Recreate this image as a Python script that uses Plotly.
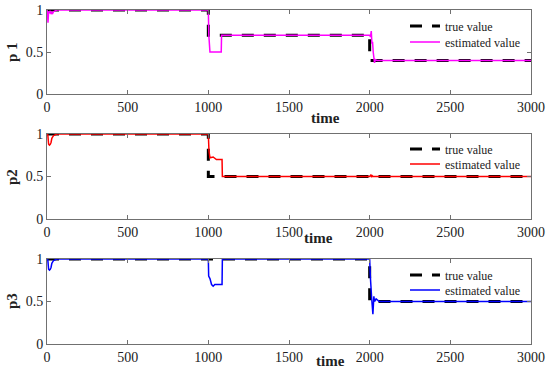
import plotly.graph_objects as go

# ---- data ----
t_true_p1 = [0, 1000, 1000, 2000, 2000, 3000]
v_true_p1 = [1, 1, 0.7, 0.7, 0.4, 0.4]
t_est_p1 = [0, 3, 6, 10, 15, 20, 25, 30, 35, 40, 50, 60, 80, 1000, 1003, 1010, 1080, 1082, 2000, 2005, 2010, 2014, 2018, 2022, 2026, 2030, 2035, 2045, 2060, 3000]
v_est_p1 = [1, 0.97, 0.85, 0.98, 0.97, 0.99, 0.95, 0.97, 0.96, 0.98, 0.99, 1.0, 1.0, 1.0, 0.7, 0.5, 0.5, 0.7, 0.7, 0.68, 0.75, 0.6, 0.62, 0.5, 0.45, 0.37, 0.41, 0.40, 0.40, 0.40]

t_true_p2 = [0, 1000, 1000, 3000]
v_true_p2 = [1, 1, 0.5, 0.5]
t_est_p2 = [0, 5, 10, 15, 20, 25, 30, 35, 40, 50, 60, 80, 1000, 1004, 1010, 1030, 1040, 1050, 1085, 1087, 2000, 2008, 2012, 2016, 2022, 2030, 3000]
v_est_p2 = [1, 0.99, 0.88, 0.87, 0.88, 0.9, 0.95, 0.97, 0.98, 0.99, 1.0, 1.0, 1.0, 0.8, 0.72, 0.73, 0.71, 0.7, 0.7, 0.5, 0.5, 0.52, 0.49, 0.51, 0.5, 0.5, 0.5]

t_true_p3 = [0, 2000, 2000, 3000]
v_true_p3 = [1, 1, 0.5, 0.5]
t_est_p3 = [0, 5, 10, 15, 20, 25, 30, 35, 40, 50, 60, 80, 1000, 1002, 1010, 1020, 1030, 1040, 1085, 1087, 2000, 2004, 2008, 2012, 2016, 2020, 2026, 2030, 2040, 2050, 2060, 2080, 3000]
v_est_p3 = [1, 0.99, 0.88, 0.87, 0.88, 0.9, 0.95, 0.97, 0.98, 0.99, 1.0, 1.0, 1.0, 0.8, 0.77, 0.7, 0.68, 0.7, 0.7, 1.0, 1.0, 0.8, 0.57, 0.55, 0.45, 0.35, 0.56, 0.5, 0.53, 0.51, 0.5, 0.5, 0.5]

x_ticks = [0, 500, 1000, 1500, 2000, 2500, 3000]
y_ticks = [0, 0.5, 1]
y_tick_text = ["0", "0.5", "1"]
y_labels = ["p 1", "p2", "p3"]
est_colors = ["#ff00ff", "#ff0000", "#0000ff"]
legend_texts = ["true value", "estimated value"]

series = [
    (t_true_p1, v_true_p1, t_est_p1, v_est_p1),
    (t_true_p2, v_true_p2, t_est_p2, v_est_p2),
    (t_true_p3, v_true_p3, t_est_p3, v_est_p3),
]

# ---- layout geometry ----
W, H = 550, 374
ml, mr, mt, mb = 47, 19, 10, 30
ph = H - mt - mb
pw = W - ml - mr
panels_px = [(10, 94), (134, 219), (259, 344)]  # top, bottom pixel
legend_rows_px = [(26, 42), (149, 164), (275, 290)]


def py(p):
    return (H - mb - p) / ph


def px(p):
    return (p - ml) / pw


fig = go.Figure()
font_family = "Liberation Serif"
axis_color = "#707070"
text_color = "#222222"
layout = dict(
    width=W, height=H,
    margin=dict(l=ml, r=mr, t=mt, b=mb, autoexpand=False),
    plot_bgcolor="white", paper_bgcolor="white",
    font=dict(family=font_family, size=14, color=text_color),
    showlegend=True,
    annotations=[],
)

time_label_pos = [(325, 118), (318, 238), (330, 361)]
ylabel_y = [52, 177, 301]

leg_idx = 0
for i, (tt, vt, te, ve) in enumerate(series):
    n = i + 1
    xa = "x" if n == 1 else f"x{n}"
    ya = "y" if n == 1 else f"y{n}"
    top, bot = panels_px[i]
    specs = [
        (tt, vt, legend_texts[0], dict(color="black", width=3, dash="12px,10px")),
        (te, ve, legend_texts[1], dict(color=est_colors[i], width=1.5)),
    ]
    for k, (xs, ys, name, line) in enumerate(specs):
        leg_idx += 1
        lg = "legend" if leg_idx == 1 else f"legend{leg_idx}"
        fig.add_trace(go.Scatter(
            x=xs, y=ys, mode="lines", name=name, line=line,
            xaxis=xa, yaxis=ya, legend=lg, showlegend=True,
        ))
        layout[lg] = dict(
            x=px(405), y=py(legend_rows_px[i][k]),
            xanchor="left", yanchor="middle",
            bgcolor="rgba(0,0,0,0)", borderwidth=0,
            font=dict(family=font_family, size=12, color=text_color),
            itemwidth=30, visible=True,
        )
    axkey = "xaxis" if n == 1 else f"xaxis{n}"
    aykey = "yaxis" if n == 1 else f"yaxis{n}"
    layout[axkey] = dict(
        domain=[0, 1], anchor=ya, range=[0, 3000],
        tickvals=x_ticks, ticks="inside", ticklen=4, tickcolor=axis_color,
        showline=True, linecolor=axis_color, linewidth=1, mirror="allticks",
        showgrid=False, zeroline=False, automargin=False,
        tickfont=dict(family=font_family, size=14, color=text_color),
    )
    layout[aykey] = dict(
        domain=[py(bot), py(top)], anchor=xa, range=[0, 1],
        tickvals=y_ticks, ticktext=y_tick_text, ticks="inside", ticklen=4,
        tickcolor=axis_color,
        showline=True, linecolor=axis_color, linewidth=1, mirror="allticks",
        showgrid=False, zeroline=False, automargin=False,
        tickfont=dict(family=font_family, size=14, color=text_color),
    )
    tx, ty = time_label_pos[i]
    layout["annotations"].append(dict(
        text="<b>time</b>", x=px(tx), y=py(ty), xref="paper", yref="paper",
        xanchor="center", yanchor="middle", showarrow=False,
        font=dict(family=font_family, size=15, color=text_color),
    ))
    layout["annotations"].append(dict(
        text="<b>" + y_labels[i] + "</b>", x=px(12), y=py(ylabel_y[i]),
        xref="paper", yref="paper", xanchor="center", yanchor="middle",
        showarrow=False, textangle=-90,
        font=dict(family=font_family, size=15, color=text_color),
    ))

fig.update_layout(**layout)
fig.write_html(
    "out.html",
    config={"displayModeBar": False},
    post_script="document.body.style.margin='0';document.body.style.padding='0';",
)
